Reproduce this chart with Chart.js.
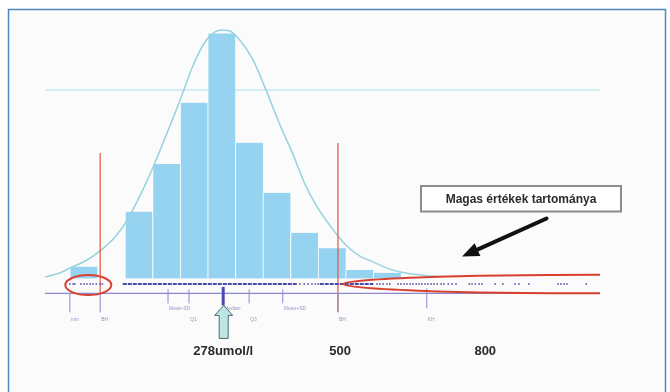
<!DOCTYPE html>
<html><head><meta charset="utf-8">
<style>html,body{margin:0;padding:0;background:#fff;}canvas{display:block;}</style>
</head><body>
<canvas id="c" width="670" height="392"></canvas>
<script src="https://cdn.jsdelivr.net/npm/chart.js@4.4.0/dist/chart.umd.min.js"></script>
<script>
// ---- data (umol/l on x, frequency on y) ----
const binStarts = [0, 50, 100, 150, 200, 250, 300, 350, 400, 450, 500, 550];
const binWidth = 50;
const binCounts = [4.8, 0, 27.2, 46.6, 71.6, 99.8, 55.3, 34.9, 18.6, 12.3, 3.4, 2.3];

const curveX = [-45, -18, 0, 28, 55, 82, 102, 127, 151, 174, 200, 223, 245, 263, 276, 290, 308, 332, 354, 381, 405, 426, 448, 472, 486, 502, 526, 550, 575, 599, 635, 671];
const curveY = [0.6, 2.2, 4.2, 7.1, 11.2, 16.9, 23.0, 33.6, 45.4, 58.0, 72.7, 86.5, 96.3, 100.4, 101.2, 100.8, 97.1, 89.0, 77.6, 62.5, 50.3, 38.5, 29.2, 21.4, 17.3, 13.2, 9.1, 6.7, 4.2, 2.6, 1.4, 0.6];

const refLineLevel = 76.7;
const refLineRange = [-45, 961];

const limitX = [55, 486];          // BH lines
const limitTop = [51.1, 55.2];
const limitBottom = [-6.1, -13.6];

const rugLevel = -2.3;
const rugBands = [[96, 412], [453, 550]];
const rugPoints = [0, 6, 9, 20, 26, 31, 37, 42, 48, 55, 59,
  417, 425, 432, 439, 445, 450,
  557, 562, 568, 575, 580, 595, 600, 606, 611, 617, 622, 628, 633, 638, 644, 649, 655, 660, 666,
  673, 678, 686, 693, 700, 724, 729, 735, 742, 747, 771, 785, 807, 814, 832, 885, 890, 896, 901, 936];

const axisLevel = -6.1;
const axisRange = [-45, 961];
const tickValues = [0, 55, 178, 216, 278, 325, 386, 486, 647];
const tickLabels = ["min", "BH", "Mean-SD", "Q1", "Median", "Q3", "Mean+SD", "BH", "KH"];
const tickKinds = ["long", "long", "short", "short", "median", "short", "short", "long", "mid"];

const bottomLabels = ["278umol/l", "500", "800"];
const bottomLabelX = [278, 490, 753];

const calloutText = "Magas értékek tartománya";

// ---- chart ----
const deco = {
  id: 'deco',
  beforeDraw(chart) {
    const c = chart.ctx;
    c.save();
    c.fillStyle = '#ffffff'; c.fillRect(0, 0, chart.width, chart.height);
    c.fillStyle = '#fbfbfb'; c.fillRect(8, 9, 658, 390);
    c.strokeStyle = '#4f86bd'; c.lineWidth = 1.5; c.strokeRect(8.5, 9.5, 657, 395);
    c.restore();
  },
  afterDatasetsDraw(chart) {
    const c = chart.ctx, xs = chart.scales.x, ys = chart.scales.y;
    const X = v => xs.getPixelForValue(v), Y = v => ys.getPixelForValue(v);
    c.save();
    // axis line
    const ay = Y(axisLevel);
    c.strokeStyle = '#8c88d0'; c.lineWidth = 1.2;
    c.beginPath(); c.moveTo(X(axisRange[0]), ay); c.lineTo(X(axisRange[1]), ay); c.stroke();
    // ticks and tiny labels
    c.font = '5px "Liberation Sans", Arial, sans-serif';
    c.textBaseline = 'middle'; c.textAlign = 'left';
    tickValues.forEach((v, i) => {
      const px = X(v), k = tickKinds[i];
      let y0, y1, w = 1, col = '#8c88d0', ly;
      if (k === 'long') { y0 = ay; y1 = ay + 19; ly = ay + 26; }
      else if (k === 'mid') { y0 = ay - 5; y1 = ay + 15; ly = ay + 26; }
      else if (k === 'median') { y0 = ay - 6.5; y1 = ay + 12; w = 3; col = '#4a46b4'; ly = ay + 15.5; }
      else { y0 = ay - 4; y1 = ay + 10; ly = (tickLabels[i].startsWith('Q') ? ay + 26.5 : ay + 15.5); }
      c.strokeStyle = col; c.lineWidth = w;
      c.beginPath(); c.moveTo(px, y0); c.lineTo(px, y1); c.stroke();
      c.fillStyle = '#9a98c8';
      c.fillText(tickLabels[i], px + 1, ly);
    });
    // cyan up arrow under the median
    const mx = X(tickValues[4]) + 0.5;
    c.fillStyle = '#bfe6e6'; c.strokeStyle = '#4d6a70'; c.lineWidth = 1;
    c.beginPath();
    c.moveTo(mx, ay + 12);
    c.lineTo(mx + 9, ay + 22); c.lineTo(mx + 4.5, ay + 22); c.lineTo(mx + 4.5, ay + 45);
    c.lineTo(mx - 4.5, ay + 45); c.lineTo(mx - 4.5, ay + 22); c.lineTo(mx - 9, ay + 22);
    c.closePath(); c.fill(); c.stroke();
    // red ellipses
    c.strokeStyle = '#d8412f'; c.lineWidth = 2;
    c.beginPath(); c.ellipse(X(33.5), Y(rugLevel) + 1, 23, 10, 0, 0, Math.PI * 2); c.stroke();
    c.beginPath(); c.ellipse(X(961), Y(rugLevel), 257, 9.3, 0, Math.PI / 2, Math.PI * 1.5); c.stroke();
    // bottom labels
    c.fillStyle = '#2a2a2a'; c.textAlign = 'center'; c.textBaseline = 'middle';
    c.font = 'bold 13px "Liberation Sans", Arial, sans-serif';
    bottomLabels.forEach((t, i) => c.fillText(t, X(bottomLabelX[i]), 351));
    // callout box
    c.fillStyle = '#ffffff'; c.fillRect(421, 186, 200, 25.5);
    c.strokeStyle = '#8c8c8c'; c.lineWidth = 2; c.strokeRect(421, 186, 200, 25.5);
    c.fillStyle = '#2b2b2b'; c.font = 'bold 12px "Liberation Sans", Arial, sans-serif';
    c.fillText(calloutText, 521, 199.5);
    // black arrow
    const x1 = 546.5, y1 = 218.5, x2 = 462, y2 = 256.5;
    const ang = Math.atan2(y2 - y1, x2 - x1);
    c.strokeStyle = '#111'; c.fillStyle = '#111'; c.lineWidth = 4; c.lineCap = 'round';
    c.beginPath(); c.moveTo(x1, y1); c.lineTo(x2 - 12 * Math.cos(ang), y2 - 12 * Math.sin(ang)); c.stroke();
    c.beginPath();
    c.moveTo(x2, y2);
    c.lineTo(x2 - 17 * Math.cos(ang) + 7 * Math.sin(ang), y2 - 17 * Math.sin(ang) - 7 * Math.cos(ang));
    c.lineTo(x2 - 17 * Math.cos(ang) - 7 * Math.sin(ang), y2 - 17 * Math.sin(ang) + 7 * Math.cos(ang));
    c.closePath(); c.fill();
    c.restore();
  }
};

const datasets = [
  { type: 'bar', data: binStarts.map((s, i) => ({ x: s + binWidth / 2, y: binCounts[i] })),
    backgroundColor: '#95d3f1', borderColor: '#ffffff', borderWidth: { left: 1, right: 0, top: 0, bottom: 0 },
    borderSkipped: false, categoryPercentage: 1, barPercentage: 1, order: 10 },
  { type: 'line', data: refLineRange.map(v => ({ x: v, y: refLineLevel })),
    borderColor: '#c6e8ef', borderWidth: 1.5, pointRadius: 0, order: 12 },
  { type: 'line', data: curveX.map((v, i) => ({ x: v, y: curveY[i] })),
    borderColor: '#96d2dd', borderWidth: 1.5, pointRadius: 0, cubicInterpolationMode: 'monotone', order: 5 },
];
limitX.forEach((v, i) => datasets.push({ type: 'line',
  data: [{ x: v, y: limitTop[i] }, { x: v, y: limitBottom[i] }],
  borderColor: '#e2553f', borderWidth: 1.2, pointRadius: 0, order: 4 }));
rugBands.forEach(b => datasets.push({ type: 'line',
  data: [{ x: b[0], y: rugLevel }, { x: b[1], y: rugLevel }],
  borderColor: '#4a48a8', borderWidth: 2, borderDash: [4, 1], pointRadius: 0, order: 3 }));
datasets.push({ type: 'line', showLine: false, data: rugPoints.map(v => ({ x: v, y: rugLevel })),
  pointStyle: 'rect', pointRadius: 1.1, pointBackgroundColor: '#4a48a8', pointBorderWidth: 0, order: 3 });

new Chart(document.getElementById('c'), {
  type: 'bar',
  data: { datasets },
  options: {
    responsive: false, animation: false, parsing: true,
    layout: { padding: { left: 45, right: 70, top: 28, bottom: 74.3 } },
    plugins: { legend: { display: false }, tooltip: { enabled: false } },
    elements: { line: { tension: 0 } },
    scales: {
      x: { type: 'linear', min: -45, max: 961, display: false, offset: false, grid: { display: false } },
      y: { type: 'linear', min: -16, max: 102, display: false }
    }
  },
  plugins: [deco]
});
</script>
</body></html>
